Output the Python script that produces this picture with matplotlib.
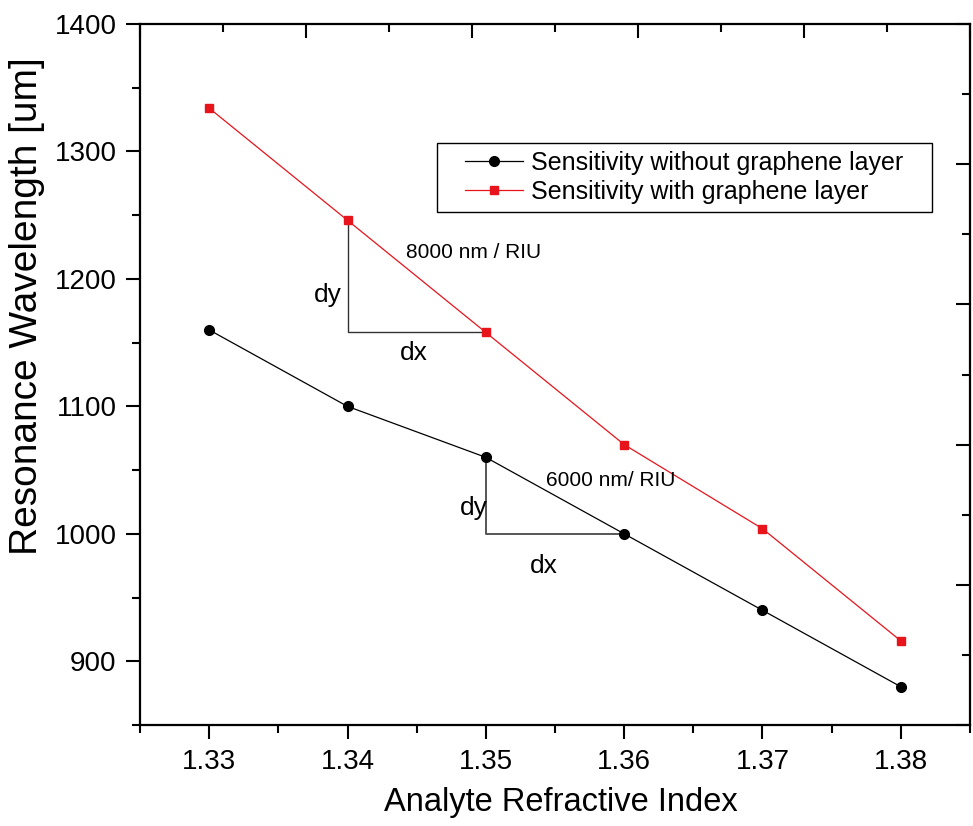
import matplotlib
matplotlib.use("Agg")
from matplotlib import pyplot as plt
from matplotlib.ticker import MultipleLocator, FormatStrFormatter
from matplotlib.patches import Rectangle

plt.rcParams['font.family'] = ['Liberation Sans', 'DejaVu Sans']

# refractive index of the analyte
ri = [1.33, 1.34, 1.35, 1.36, 1.37, 1.38]
# resonance wavelength
without_graphene = [1160, 1100, 1060, 1000, 940, 880]
with_graphene = [1334, 1246, 1158, 1070, 1004, 916]

label_without = "Sensitivity without graphene layer"
label_with = "Sensitivity with graphene layer"

red = '#e8141c'

fig = plt.figure(figsize=(9.73, 8.26), dpi=100)
ax = fig.add_axes([0.1439, 0.1223, 0.853, 0.8486])

ax.plot(ri, without_graphene, color='k', lw=0.9, marker='o', ms=7, label=label_without)
ax.plot(ri, with_graphene, color=red, lw=0.9, marker='s', ms=6, mec=red, label=label_with)

# slope triangles
ax.plot([ri[1], ri[1], ri[2]], [with_graphene[1], with_graphene[2], with_graphene[2]],
        color='#333333', lw=1.0, zorder=1)
ax.plot([ri[2], ri[2], ri[3]], [without_graphene[2], without_graphene[3], without_graphene[3]],
        color='#555555', lw=1.4, zorder=1)

ax.text(1.3386, 1187, "dy", fontsize=19, ha='center', va='center')
ax.text(1.3448, 1142, "dx", fontsize=19, ha='center', va='center')
ax.text(1.3491, 1221, "8000 nm / RIU", fontsize=15, ha='center', va='center')
ax.text(1.3491, 1020, "dy", fontsize=19, ha='center', va='center')
ax.text(1.3542, 975, "dx", fontsize=19, ha='center', va='center')
ax.text(1.3590, 1042, "6000 nm/ RIU", fontsize=15, ha='center', va='center')

ax.set_xlim(1.325, 1.385)
ax.set_ylim(850, 1400)
ax.xaxis.set_major_locator(MultipleLocator(0.01))
ax.xaxis.set_minor_locator(MultipleLocator(0.005))
ax.yaxis.set_major_locator(MultipleLocator(100))
ax.yaxis.set_minor_locator(MultipleLocator(50))
ax.xaxis.set_major_formatter(FormatStrFormatter('%.2f'))
ax.tick_params(which='major', direction='out', length=10, width=1.5, labelsize=20, pad=7)
ax.tick_params(which='minor', direction='out', length=6, width=1.5)
ax.tick_params(top=False, right=False, which='both')
for s in ax.spines.values():
    s.set_linewidth(1.6)

ax.set_xlabel("Analyte Refractive Index", fontsize=23.5)
ax.set_ylabel("Resonance Wavelength [um]", fontsize=28)
ax.xaxis.set_label_coords(0.507, -0.088)
ax.yaxis.set_label_coords(-0.114, 0.598)

# legend box drawn separately so its padding matches the original
ax.add_patch(Rectangle((0.3578, 0.7318), 0.5964, 0.0984, transform=ax.transAxes,
                       facecolor='white', edgecolor='k', lw=1.0, zorder=4))
leg = ax.legend(loc='center', bbox_to_anchor=(0.656, 0.781), borderaxespad=0,
                fontsize=18, handlelength=2.3, frameon=False, labelspacing=0.2,
                borderpad=0, handletextpad=0.35)
leg.set_zorder(5)

# top and right axes of the frame carry their own tick spacing
ax2 = fig.add_axes(ax.get_position(), frameon=False)
ax2.set_xlim(0, 1)
ax2.set_ylim(0, 1)
ax2.xaxis.set_major_locator(MultipleLocator(0.2))
ax2.xaxis.set_minor_locator(MultipleLocator(0.1))
ax2.yaxis.set_major_locator(MultipleLocator(0.2))
ax2.yaxis.set_minor_locator(MultipleLocator(0.1))
ax2.tick_params(which='both', direction='in', width=1.5, top=True, right=True,
                bottom=False, left=False, labeltop=False, labelright=False,
                labelbottom=False, labelleft=False)
ax2.tick_params(which='major', length=10)
ax2.tick_params(which='minor', length=6)
ax2.patch.set_visible(False)

fig.savefig("out.png", dpi=100)
